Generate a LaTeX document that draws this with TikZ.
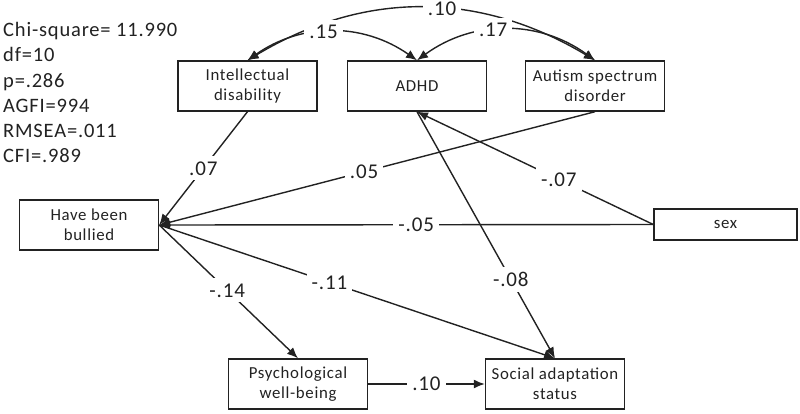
\documentclass[tikz,border=0pt]{standalone}
\usepackage{fontspec}
\setmainfont{Carlito}[LetterSpace=4]
\usetikzlibrary{arrows.meta}
\definecolor{ink}{HTML}{222222}

\begin{document}
\begin{tikzpicture}[x=1pt,y=-1pt]
	\tikzset{box/.style = {shape=rectangle,draw=ink,line width=1.4pt,
			align=center,minimum width=139pt,minimum height=50pt,inner sep=0pt,
			text=ink,font=\fontsize{16.8}{20}\selectfont}}
	\tikzset{edge/.style = {draw=ink,line width=1.4pt,> = {Latex[length=11pt,width=9pt]},->}}
	\tikzset{both/.style = {edge,<->}}
	\tikzset{coef/.style = {fill=white,inner sep=5pt,text=ink,
			font=\fontsize{21}{24}\selectfont}}
    \useasboundingbox (0,0) rectangle (800,413);
    % fit statistics
    \node[anchor=north west,align=left,inner sep=0pt,text=ink,
          font=\fontsize{20.5}{25.3}\selectfont] (fit) at (3,22)
          {Chi-square= 11.990\\df=10\\p=.286\\AGFI=994\\RMSEA=.011\\CFI=.989};
    % vertices
    \node[box] (id)  at (247.5,86) {Intellectual\\disability};
    \node[box] (adhd) at (417,86) {ADHD};
    \node[box] (asd) at (595,86) {Autism spectrum\\disorder};
    \node[box] (bul) at (89,225) {Have been\\bullied};
    \node[box,minimum width=143pt,minimum height=31pt] (sex) at (725.5,224.5) {sex};
    \node[box] (pwb) at (298,384) {Psychological\\well-being};
    \node[box] (sas) at (555,384) {Social adaptation\\status};
    %edges
    \draw[both] (id.north) to[bend left=31] node[coef,pos=0.56] {.10} (asd.north);
    \draw[both] (id.north) to[bend left=35] node[coef,pos=0.45] {.15} (adhd.north);
    \draw[both] (adhd.north) to[bend left=36] node[coef,pos=0.43] {.17} (asd.north);
    \draw[edge] (id.south) to node[coef,pos=0.5] {.07} (bul.east);
    \draw[edge] (asd.south) to node[coef,pos=0.53] {.05} (bul.east);
    \draw[edge] (sex.west) to node[coef,pos=0.48] {-.05} (bul.east);
    \draw[edge] (sex.west) to node[coef,pos=0.4] {-.07} (adhd.south);
    \draw[edge] (adhd.south) to node[coef,pos=0.68] {-.08} (sas.north);
    \draw[edge] (bul.east) to node[coef,pos=0.49] {-.14} (pwb.north);
    \draw[edge] (bul.east) to node[coef,pos=0.43] {-.11} (sas.north);
    \draw[edge] (pwb.east) to node[coef,pos=0.5] {.10} (sas.west);
\end{tikzpicture}
\end{document}
